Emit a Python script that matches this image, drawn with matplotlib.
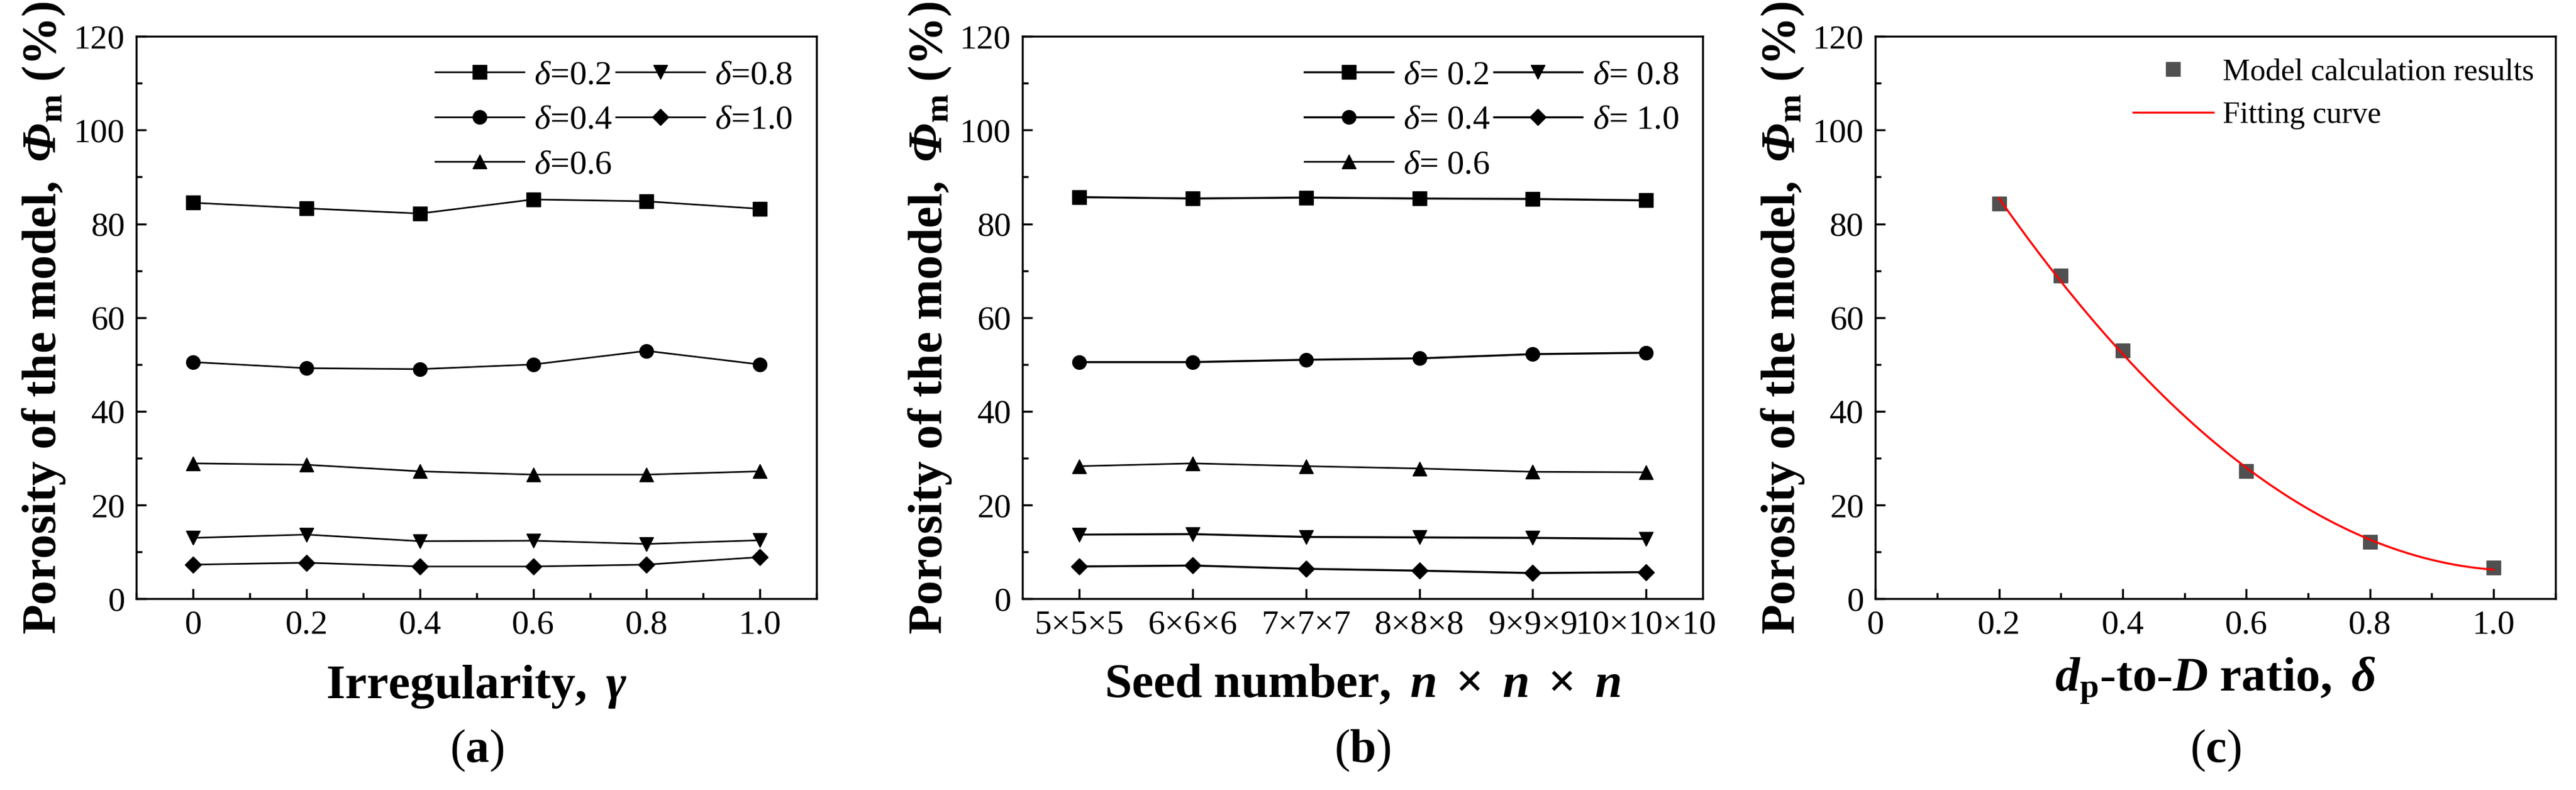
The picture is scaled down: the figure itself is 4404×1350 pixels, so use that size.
import numpy as np
import matplotlib
matplotlib.use("Agg")
import matplotlib.pyplot as plt
from matplotlib.ticker import MultipleLocator, AutoMinorLocator

plt.rcParams['font.family'] = 'serif'
plt.rcParams['font.serif'] = ['Liberation Serif', 'DejaVu Serif']
plt.rcParams['mathtext.fontset'] = 'custom'
plt.rcParams['mathtext.rm'] = 'Liberation Serif'
plt.rcParams['mathtext.it'] = 'Liberation Serif:italic'
plt.rcParams['mathtext.bf'] = 'Liberation Serif:bold'
plt.rcParams['mathtext.bfit'] = 'Liberation Serif:bold:italic'

# Panel (a)
gamma = [0, 0.2, 0.4, 0.6, 0.8, 1.0]
a_d02 = [84.5, 83.3, 82.2, 85.2, 84.8, 83.2]
a_d04 = [50.5, 49.2, 49.0, 50.0, 52.9, 50.0]
a_d06 = [28.9, 28.6, 27.2, 26.5, 26.5, 27.2]
a_d08 = [13.0, 13.7, 12.3, 12.4, 11.7, 12.5]
a_d10 = [7.3, 7.7, 6.9, 6.9, 7.3, 8.9]
# Panel (b)
seeds = ['5×5×5', '6×6×6', '7×7×7', '8×8×8', '9×9×9', '10×10×10']
b_d02 = [85.7, 85.4, 85.6, 85.4, 85.3, 85.0]
b_d04 = [50.5, 50.5, 51.0, 51.3, 52.2, 52.5]
b_d06 = [28.3, 28.9, 28.3, 27.8, 27.1, 27.0]
b_d08 = [13.7, 13.8, 13.2, 13.1, 13.0, 12.8]
b_d10 = [6.9, 7.1, 6.4, 6.0, 5.5, 5.7]
# Panel (c)
delta = [0.2, 0.3, 0.4, 0.6, 0.8, 1.0]
c_phi = [84.3, 69.0, 53.0, 27.2, 12.2, 6.6]

deltas = ['0.2', '0.4', '0.6', '0.8', '1.0']
markers = ['s', 'o', '^', 'v', 'D']

fig = plt.figure(figsize=(44.04, 13.5), dpi=100)
TICK = 42
LAB = 60
ylab = r'$\mathbf{Porosity\ of\ the\ model,\ }\mathbfit{\Phi}_\mathbf{m}\mathbf{\ (\%)}$'

def style(ax):
    ax.set_ylim(0, 120)
    ax.yaxis.set_major_locator(MultipleLocator(20))
    ax.yaxis.set_minor_locator(MultipleLocator(10))
    ax.tick_params(which='both', direction='in', top=False, right=False, labelsize=TICK, width=2.5)
    ax.tick_params(which='major', length=12, pad=14)
    ax.tick_params(which='minor', length=7)
    for s in ax.spines.values():
        s.set_linewidth(2.5)
    ax.set_ylabel(ylab, fontsize=LAB, labelpad=8)

pos = [0.053, 0.397, 0.728]
w = 0.264
axes = [fig.add_axes([p, 0.242, w, 0.712]) for p in pos]

ax = axes[0]
for ys, m, d in zip([a_d02, a_d04, a_d06, a_d08, a_d10], markers, deltas):
    ax.plot(gamma, ys, color='black', lw=2, marker=m, ms=17 if m != 'D' else 14,
            label=r'$\mathit{\delta}$=' + d)
ax.set_xlim(-0.1, 1.1)
ax.set_xticks(gamma)
ax.set_xticklabels(['0', '0.2', '0.4', '0.6', '0.8', '1.0'])
ax.xaxis.set_minor_locator(MultipleLocator(0.1))
style(ax)
ax.set_xlabel(r'$\mathbf{Irregularity,\ }\mathbfit{\gamma}$', fontsize=LAB, labelpad=28)
ax.legend(ncol=2, loc='upper right', fontsize=42, frameon=False, handlelength=2.6,
          columnspacing=0.1, handletextpad=0.3, borderaxespad=0.3, labelspacing=0.4)

ax = axes[1]
xs = np.arange(len(seeds))
for ys, m, d in zip([b_d02, b_d04, b_d06, b_d08, b_d10], markers, deltas):
    ax.plot(xs, ys, color='black', lw=2.5 if d != '0.6' else 2, marker=m,
            ms=17 if m != 'D' else 14, label=r'$\mathit{\delta}$= ' + d)
ax.set_xlim(-0.5, 5.5)
ax.set_xticks(xs)
ax.set_xticklabels(seeds)
style(ax)
ax.set_xlabel(r'$\mathbf{Seed\ number,\ }\mathbfit{n}\mathbf{\ \times\ }\mathbfit{n}\mathbf{\ \times\ }\mathbfit{n}$',
              fontsize=LAB, labelpad=28)
ax.legend(ncol=2, loc='upper right', fontsize=42, frameon=False, handlelength=2.6,
          columnspacing=0.1, handletextpad=0.3, borderaxespad=0.3, labelspacing=0.4)

ax = axes[2]
coef = np.polyfit(delta, c_phi, 2)
xf = np.linspace(min(delta), max(delta), 200)
ax.plot(delta, c_phi, ls='none', marker='s', ms=17, color='#505050', label='Model calculation results')
ax.plot(xf, np.polyval(coef, xf), color='red', lw=2.5, label='Fitting curve')
ax.set_xlim(0, 1.1)
ax.set_xticks([0, 0.2, 0.4, 0.6, 0.8, 1.0])
ax.set_xticklabels(['0', '0.2', '0.4', '0.6', '0.8', '1.0'])
ax.xaxis.set_minor_locator(MultipleLocator(0.1))
style(ax)
ax.set_xlabel(r'$\mathbfit{d}_\mathbf{p}\mathbf{\text{-}to\text{-}}\mathbfit{D}\mathbf{\ ratio,\ }\mathbfit{\delta}$',
              fontsize=LAB, labelpad=18)
ax.legend(loc='upper right', fontsize=38, frameon=False, handlelength=2.6,
          handletextpad=0.3, borderaxespad=0.3)

for p, t in zip(pos, ['a', 'b', 'c']):
    fig.text(p + w / 2, 0.05, r'$(\mathbf{' + t + r'})$', fontsize=58, ha='center', va='center')

fig.savefig('out.png', dpi=100)
